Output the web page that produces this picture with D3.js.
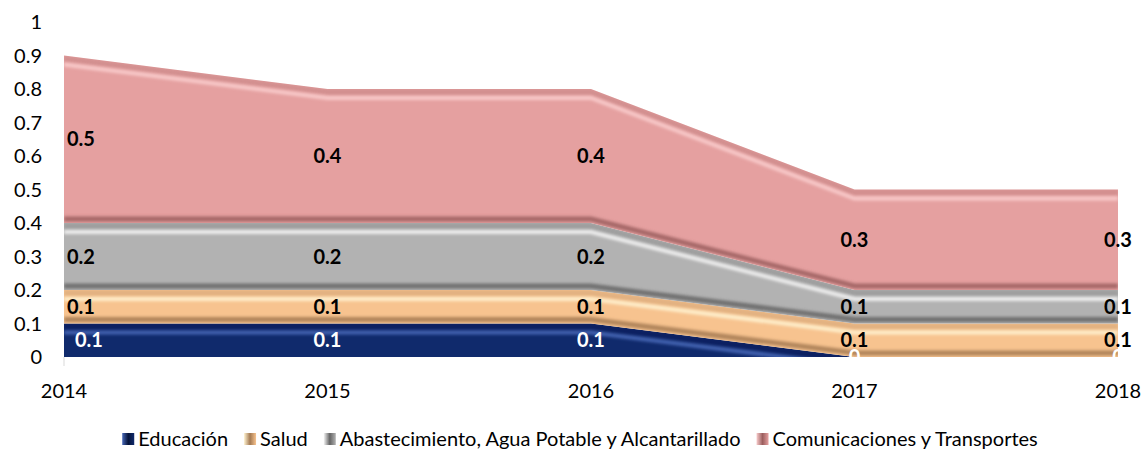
<!DOCTYPE html>
<html>
<head>
<meta charset="utf-8">
<script src="https://cdn.jsdelivr.net/npm/d3@7"></script>
<style>
  html, body { margin: 0; padding: 0; background: #fff; }
  svg { display: block; font-family: Lato, "Open Sans", sans-serif; }
</style>
</head>
<body>
<svg id="chart" width="1148" height="453"></svg>
<script>
// data
const years = ['2014', '2015', '2016', '2017', '2018'];
const educacion = [0.1, 0.1, 0.1, 0, 0];
const salud = [0.1, 0.1, 0.1, 0.1, 0.1];
const abastecimiento = [0.2, 0.2, 0.2, 0.1, 0.1];
const comunicaciones = [0.5, 0.4, 0.4, 0.3, 0.3];
const seriesNames = ['Educación', 'Salud', 'Abastecimiento, Agua Potable y Alcantarillado', 'Comunicaciones y Transportes'];
const yTicks = [0, 0.1, 0.2, 0.3, 0.4, 0.5, 0.6, 0.7, 0.8, 0.9, 1];

// base / highlight / shadow for each band
const palette = [
  { base: '#102a6c', light: '#4868b8', dark: '#06143a', label: '#fff' },
  { base: '#f7c38f', light: '#fff3d2', dark: '#a47a52', label: '#000' },
  { base: '#b2b2b2', light: '#f4f4f4', dark: '#646464', label: '#000' },
  { base: '#e5a0a0', light: '#f9cdcd', dark: '#9b5e5e', label: '#000' }
];

const FONT = 20;

const svg = d3.select('#chart');
const x = d3.scalePoint().domain(years).range([64, 1118]);
const y = d3.scaleLinear().domain([0, 1]).range([357, 22]);

const rows = years.map((yr, i) => ({
  year: yr, s0: educacion[i], s1: salud[i], s2: abastecimiento[i], s3: comunicaciones[i]
}));
const keys = ['s0', 's1', 's2', 's3'];
const stacked = d3.stack().keys(keys)(rows);

const defs = svg.append('defs');
defs.append('filter').attr('id', 'soft')
  .attr('x', '-5%').attr('y', '-50%').attr('width', '110%').attr('height', '200%')
  .append('feGaussianBlur').attr('stdDeviation', 1.6);

const area = d3.area()
  .x(d => x(d.data.year))
  .y0(d => y(d[0]))
  .y1(d => y(d[1]));

const g = svg.append('g');

stacked.forEach((s, i) => {
  const col = palette[i];
  const clipId = 'clip' + i;
  defs.append('clipPath').attr('id', clipId)
    .append('path').attr('d', area(s));

  g.append('path').attr('d', area(s)).attr('fill', col.base);

  const band = g.append('g').attr('clip-path', `url(#${clipId})`);

  // top rim, a little darker than the face
  band.append('path')
    .attr('d', d3.line().x(d => x(d.data.year)).y(d => y(d[1]) + 3)(s))
    .attr('fill', 'none').attr('stroke', col.dark).attr('stroke-opacity', 0.25)
    .attr('stroke-width', 6).attr('filter', 'url(#soft)');
  // highlight strip under the top edge
  band.append('path')
    .attr('d', d3.line().x(d => x(d.data.year)).y(d => y(d[1]) + 9)(s))
    .attr('fill', 'none').attr('stroke', col.light).attr('stroke-opacity', 0.9)
    .attr('stroke-width', 4).attr('filter', 'url(#soft)');
  // shadow strip above the bottom edge
  band.append('path')
    .attr('d', d3.line().x(d => x(d.data.year)).y(d => y(d[0]) - 4)(s))
    .attr('fill', 'none').attr('stroke', col.dark).attr('stroke-opacity', 0.85)
    .attr('stroke-width', 5).attr('filter', 'url(#soft)');
  // side bevels
  band.append('line')
    .attr('x1', x(years[0]) + 4).attr('x2', x(years[0]) + 4)
    .attr('y1', 0).attr('y2', 400)
    .attr('stroke', col.light).attr('stroke-opacity', 0.35).attr('stroke-width', 4)
    .attr('filter', 'url(#soft)');
  band.append('line')
    .attr('x1', x(years[4]) - 2).attr('x2', x(years[4]) - 2)
    .attr('y1', 0).attr('y2', 400)
    .attr('stroke', col.dark).attr('stroke-opacity', 0.8).attr('stroke-width', 4)
    .attr('filter', 'url(#soft)');
});

// y axis labels
svg.append('g').selectAll('text').data(yTicks).join('text')
  .attr('x', 42).attr('y', d => y(d)).attr('dy', '0.36em')
  .attr('text-anchor', 'end').attr('font-size', FONT).attr('fill', '#000')
  .text(d => d3.format('~g')(d));

// tick at the axis foot
svg.append('line').attr('x1', 64).attr('x2', 64).attr('y1', 357).attr('y2', 366)
  .attr('stroke', '#d9d9d9');

// x axis labels
svg.append('g').selectAll('text').data(years).join('text')
  .attr('x', d => x(d)).attr('y', 398)
  .attr('text-anchor', 'middle').attr('font-size', FONT).attr('fill', '#000')
  .text(d => d);

// data labels
const labels = svg.append('g').attr('font-weight', 'bold').attr('font-size', FONT);
stacked.forEach((s, i) => {
  labels.selectAll(null).data(s).join('text')
    .attr('x', (d, j) => j === 0 ? x(d.data.year) + (i === 0 ? 11 : 3) : x(d.data.year))
    .attr('y', d => y((d[0] + d[1]) / 2))
    .attr('dy', '0.36em')
    .attr('text-anchor', (d, j) => j === 0 ? 'start' : 'middle')
    .attr('fill', palette[i].label)
    .text(d => d3.format('~g')(d[1] - d[0]));
});

// legend, laid out from measured text widths and centred
const legend = svg.append('g');
const items = seriesNames.map((name, i) => {
  const col = palette[i];
  const lg = defs.append('linearGradient').attr('id', 'lg' + i)
    .attr('x1', '0%').attr('y1', '0%').attr('x2', '100%').attr('y2', '0%');
  lg.append('stop').attr('offset', '0%').attr('stop-color', col.light);
  lg.append('stop').attr('offset', '50%').attr('stop-color', col.dark);
  lg.append('stop').attr('offset', '100%').attr('stop-color', col.base);
  const item = legend.append('g');
  item.append('rect').attr('x', 0).attr('y', 433).attr('width', 12).attr('height', 12)
    .attr('fill', `url(#lg${i})`);
  const t = item.append('text').attr('x', 16).attr('y', 439).attr('dy', '0.36em')
    .attr('font-size', FONT).attr('fill', '#000').text(name);
  return { item, w: 16 + t.node().getComputedTextLength() };
});
const gap = 16;
const total = d3.sum(items, d => d.w) + gap * (items.length - 1);
let cx = 580 - total / 2;
items.forEach(d => {
  d.item.attr('transform', `translate(${cx},0)`);
  cx += d.w + gap;
});
</script>
</body>
</html>
